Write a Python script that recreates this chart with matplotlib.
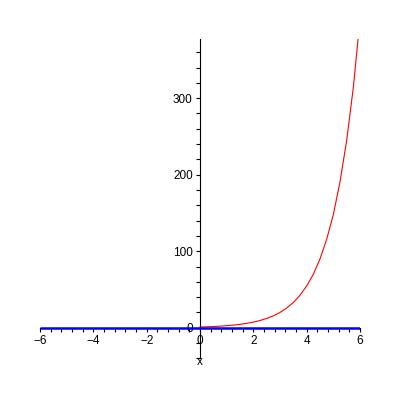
import numpy as np
import matplotlib.pyplot as plt
from matplotlib.ticker import MultipleLocator

# red curve
red_x = [0, 0.25, 0.5, 0.75, 1, 1.25, 1.5, 1.75, 2, 2.25, 2.5, 2.75, 3,
         3.25, 3.5, 3.75, 4, 4.25, 4.5, 4.75, 5, 5.25, 5.5, 5.75, 6]
red_y = [1, 1.3, 1.6, 2.1, 2.7, 3.5, 4.5, 5.8, 7.4, 9.5, 12.2, 15.6, 20,
         25.8, 33, 42.5, 54.6, 70, 90, 115.6, 148, 190.6, 244.7, 314, 403]

# blue line along the x axis
blue_x = [-6, 6]
blue_y = [0, 0]

def main():
    plt.rcParams["font.family"] = ["Liberation Sans", "DejaVu Sans"]
    fig = plt.figure(figsize=(4, 4), dpi=100)
    ax = fig.add_axes([0.1, 0.104, 0.8, 0.798])

    ax.plot(red_x, red_y, color="red", linewidth=0.8, zorder=3)
    ax.plot(blue_x, blue_y, color="blue", linewidth=1.8, zorder=4,
            solid_capstyle="butt")

    ax.set_xlim(-6, 6)
    ax.set_ylim(-40, 377)

    ax.spines["top"].set_visible(False)
    ax.spines["right"].set_visible(False)
    ax.spines["left"].set_position(("data", 0))
    ax.spines["bottom"].set_position(("data", 0))
    for s in ("left", "bottom"):
        ax.spines[s].set_linewidth(0.8)

    ax.xaxis.set_major_locator(MultipleLocator(2))
    ax.xaxis.set_minor_locator(MultipleLocator(0.4))
    ax.yaxis.set_major_locator(MultipleLocator(100))
    ax.yaxis.set_minor_locator(MultipleLocator(20))
    ax.tick_params(which="both", direction="out", length=3.2, width=0.8,
                   labelsize=8.5, pad=2)
    ax.set_xticks([-6, -4, -2, 0, 2, 4, 6])
    ax.set_yticks([0, 100, 200, 300])

    ax.text(0, -45, "x", ha="center", va="center", fontsize=8.5)

    plt.savefig("out.png", dpi=100)

if __name__ == "__main__":
    main()
